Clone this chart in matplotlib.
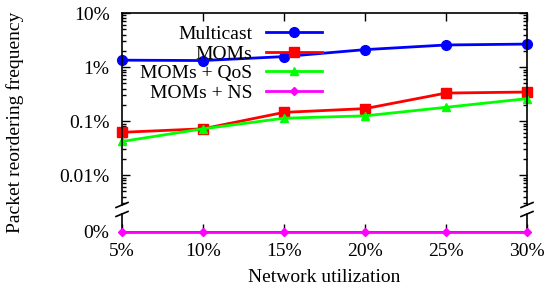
import numpy as np
import matplotlib.pyplot as plt
from matplotlib.ticker import FixedLocator, LogLocator, NullFormatter

plt.rcParams['font.family'] = ['Liberation Serif', 'DejaVu Serif']

util = [5, 10, 15, 20, 25, 30]
xlabels = ['5%', '10%', '15%', '20%', '25%', '30%']

multicast = [1.34, 1.32, 1.56, 2.1, 2.56, 2.66]
moms = [0.062, 0.072, 0.145, 0.17, 0.33, 0.345]
moms_qos = [0.042, 0.072, 0.113, 0.125, 0.18, 0.26]
moms_ns = [0, 0, 0, 0, 0, 0]

series = [
    ('Multicast', multicast, 'blue', 'o', 7),
    ('MOMs', moms, 'red', 's', 7),
    ('MOMs + QoS', moms_qos, '#00ff00', '^', 6),
    ('MOMs + NS', moms_ns, 'magenta', 'D', 4.5),
]

FS = 14
W, H = 544, 296
fig = plt.figure(figsize=(W / 100, H / 100), dpi=100)

left, right = 122 / W, 527 / W
top_y0, top_y1 = 13, 205      # pixel rows of upper (log) panel
bot_y0, bot_y1 = 214, 232     # pixel rows of lower (zero) panel

ax = fig.add_axes([left, 1 - top_y1 / H, right - left, (top_y1 - top_y0) / H])
axb = fig.add_axes([left, 1 - bot_y1 / H, right - left, (bot_y1 - bot_y0) / H])

for name, vals, col, mk, ms in series:
    vals = np.array(vals, dtype=float)
    if np.all(vals == 0):
        axb.plot(util, vals, color=col, marker=mk, ms=ms, lw=2, clip_on=False, zorder=5)
        ax.plot([], [], color=col, marker=mk, ms=ms, lw=2, label=name)
    else:
        ax.plot(util, vals, color=col, marker=mk, ms=ms, lw=2, clip_on=False, label=name)

ax.set_yscale('log')
ax.set_ylim(0.0028, 10)
ax.set_xlim(5, 30)
ax.yaxis.set_major_locator(FixedLocator([0.01, 0.1, 1, 10]))
ax.set_yticklabels(['0.01%', '0.1%', '1%', '10%'])
ax.yaxis.set_minor_locator(LogLocator(base=10, subs=np.arange(2, 10)))
ax.yaxis.set_minor_formatter(NullFormatter())
ax.set_xticks(util)
ax.tick_params(axis='x', which='both', bottom=False, top=True, labelbottom=False,
               direction='in', length=6, width=1)
ax.tick_params(axis='y', which='major', left=True, right=True, direction='in',
               length=6, width=1, labelsize=FS, pad=9)
ax.tick_params(axis='y', which='minor', left=True, right=True, direction='in',
               length=3, width=1)
ax.spines['bottom'].set_visible(False)

axb.set_xlim(5, 30)
axb.set_ylim(0, 1)
axb.set_yticks([0])
axb.set_yticklabels(['0%'])
axb.set_xticks(util)
axb.set_xticklabels(xlabels)
axb.tick_params(axis='both', direction='in', length=6, width=1, labelsize=FS,
                right=True)
axb.tick_params(axis='x', pad=8)
axb.tick_params(axis='y', pad=9)
axb.spines['top'].set_visible(False)
axb.patch.set_alpha(0)

for a in (ax, axb):
    for s in a.spines.values():
        s.set_linewidth(1.2)

# break marks on both vertical axes
for xb in (left, right):
    for yp in (top_y1, bot_y0):
        yf = 1 - yp / H
        fig.add_artist(plt.Line2D([xb - 6 / W, xb + 6 / W], [yf - 2.5 / H, yf + 2.5 / H],
                                  color='black', lw=1.2))

leg = ax.legend(loc='upper right', bbox_to_anchor=(0.494, 0.935), markerfirst=False,
                frameon=False, fontsize=FS, handlelength=2.9, handletextpad=0.7,
                labelspacing=0.1, numpoints=1, borderaxespad=0, borderpad=0)

fig.text(0.028, 1 - 122 / H, 'Packet reordering frequency', rotation=90,
         ha='center', va='center', fontsize=FS)
fig.text((left + right) / 2, 1 - 278 / H, 'Network utilization', ha='center',
         va='center', fontsize=FS)

fig.savefig('out.png', dpi=100)
